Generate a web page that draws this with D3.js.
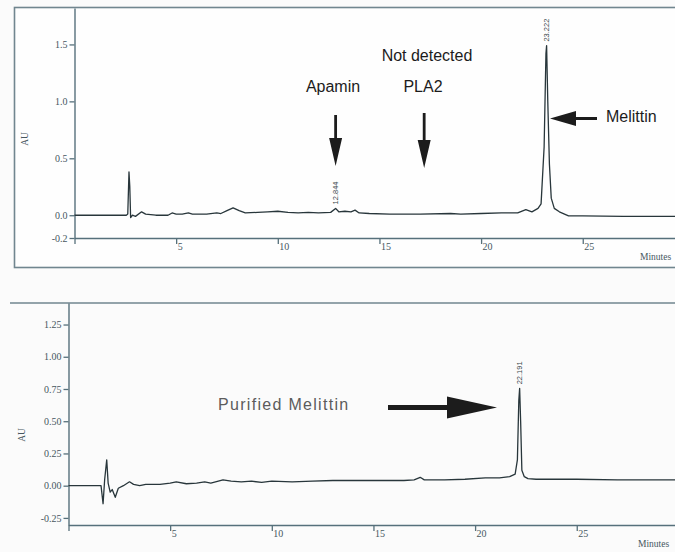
<!DOCTYPE html>
<html>
<head>
<meta charset="utf-8">
<script src="https://cdn.jsdelivr.net/npm/d3@7"></script>
<style>
  html, body { margin: 0; padding: 0; background: #fbfbfb; }
  svg { display: block; }
</style>
</head>
<body>
<svg id="chart" width="675" height="552"></svg>
<script>
// Crude bee venom: retention time (min) and absorbance (AU)
const crudeTime = [0, 2.55, 2.62, 2.68, 2.72, 2.76, 2.85, 3.0, 3.3, 3.5, 4.0, 4.6, 4.8, 5.0, 5.3, 5.6, 5.8,
  6.5, 7.0, 7.2, 7.5, 7.8, 8.1, 8.4, 9.0, 9.5, 10.0, 10.5, 11.0, 11.5, 12.0, 12.6, 12.844, 13.0, 13.3,
  13.6, 13.8, 14.0, 14.5, 15.5, 17.0, 18.5, 19.0, 20.0, 21.0, 21.8, 22.2, 22.5, 22.8, 22.95, 23.1, 23.19,
  23.222, 23.28, 23.36, 23.45, 23.6, 23.85, 24.3, 25.0, 27.0, 29.8];
const crudeAU = [0, 0, 0.01, 0.38, 0.25, -0.02, 0, -0.01, 0.03, 0.01, 0, 0, 0.02, 0.01, 0.01, 0.02, 0.01,
  0.01, 0.02, 0.015, 0.04, 0.065, 0.04, 0.02, 0.025, 0.03, 0.035, 0.025, 0.02, 0.025, 0.02, 0.025, 0.06, 0.03, 0.035,
  0.03, 0.045, 0.02, 0.015, 0.01, 0.01, 0.015, 0.01, 0.015, 0.02, 0.02, 0.05, 0.03, 0.06, 0.1, 0.6, 1.42,
  1.49, 1.0, 0.45, 0.15, 0.06, 0.03, -0.005, -0.005, -0.01, -0.01];

// Purified melittin: retention time (min) and absorbance (AU)
const pureTime = [0, 1.6, 1.7, 1.78, 1.88, 1.95, 2.05, 2.15, 2.3, 2.45, 2.7, 3.0, 3.2, 3.5, 3.8, 4.5, 5.0,
  5.3, 5.8, 6.3, 6.7, 7.0, 7.6, 8.0, 8.5, 9.0, 9.5, 10.0, 11.0, 12.0, 13.0, 14.0, 15.0, 16.5, 17.0, 17.3,
  17.5, 18.5, 19.5, 20.5, 21.2, 21.7, 21.97, 22.08, 22.15, 22.191, 22.24, 22.3, 22.42, 22.6, 23.0, 25.0, 27.0, 29.9];
const pureAU = [0, 0, -0.14, 0.05, 0.2, 0.02, -0.05, -0.03, -0.09, -0.02, 0, 0.03, 0.01, 0, 0.01, 0.01, 0.02,
  0.03, 0.015, 0.02, 0.03, 0.02, 0.045, 0.035, 0.03, 0.035, 0.025, 0.035, 0.03, 0.035, 0.04, 0.04, 0.04, 0.04, 0.045, 0.065,
  0.045, 0.045, 0.05, 0.06, 0.06, 0.07, 0.09, 0.2, 0.66, 0.755, 0.5, 0.12, 0.07, 0.055, 0.05, 0.05, 0.045, 0.045];

// Axis ticks
const timeTicks = [0, 5, 10, 15, 20, 25];
const crudeAUTicks = [-0.2, 0, 0.5, 1.0, 1.5];
const crudeAUTickLabels = ["-0.2", "0.0", "0.5", "1.0", "1.5"];
const pureAUTicks = [-0.25, 0, 0.25, 0.5, 0.75, 1.0, 1.25];
const pureAUTickLabels = ["-0.25", "0.00", "0.25", "0.50", "0.75", "1.00", "1.25"];

// Integrated peaks (retention times printed above the apex)
const crudePeakTimes = [12.844, 23.222];
const purePeakTimes = [22.191];

const svg = d3.select("#chart");
const AXIS = "#56707b";
const TRACE = "#28363b";
const TEXT = "#46575e";

// ---------- panel frames ----------
svg.append("rect")
  .attr("x", 14.5).attr("y", 7.5).attr("width", 700).attr("height", 260)
  .attr("fill", "#fefefe").attr("stroke", "#71868f").attr("stroke-width", 1.6);

svg.append("line")
  .attr("x1", 10).attr("x2", 675).attr("y1", 303).attr("y2", 303)
  .attr("stroke", "#71868f").attr("stroke-width", 1.6);

function drawPanel(opts) {
  const { times, values, xRange, yDomain, yRange, yTicks, yLabels, peaks, minutesPos, auPos } = opts;
  const x = d3.scaleLinear().domain([0, 30]).range(xRange);
  const y = d3.scaleLinear().domain(yDomain).range(yRange);
  const g = svg.append("g");

  // y axis
  const yAxis = d3.axisLeft(y)
    .tickValues(yTicks)
    .tickFormat((d, i) => yLabels[i])
    .tickSize(5).tickPadding(2).tickSizeOuter(0);
  const ya = g.append("g").attr("transform", `translate(${xRange[0]},0)`).call(yAxis);
  ya.select(".domain").attr("stroke", AXIS).attr("stroke-width", 1.4);
  ya.selectAll(".tick line").attr("stroke", AXIS).attr("stroke-width", 1.3);
  ya.selectAll(".tick text")
    .attr("fill", TEXT).attr("font-family", "Liberation Serif, serif").attr("font-size", 10);

  // x axis
  const xAxis = d3.axisBottom(x)
    .tickValues(timeTicks)
    .tickFormat(d => d === 0 ? "" : d)
    .tickSize(6).tickSizeOuter(0);
  const xa = g.append("g").attr("transform", `translate(0,${yRange[0]})`).call(xAxis);
  xa.select(".domain").attr("stroke", AXIS).attr("stroke-width", 1.4);
  xa.selectAll(".tick line").attr("stroke", AXIS).attr("stroke-width", 1.3);
  xa.selectAll(".tick text")
    .attr("fill", TEXT).attr("font-family", "Liberation Serif, serif").attr("font-size", 10)
    .attr("text-anchor", "start").attr("dx", 1).attr("y", 5).attr("dy", "0.71em");

  // axis titles
  g.append("text")
    .attr("transform", `translate(${auPos[0]},${auPos[1]}) rotate(-90)`)
    .attr("text-anchor", "middle")
    .attr("fill", TEXT).attr("font-family", "Liberation Serif, serif").attr("font-size", 9.5)
    .text("AU");
  g.append("text")
    .attr("x", minutesPos[0]).attr("y", minutesPos[1])
    .attr("fill", TEXT).attr("font-family", "Liberation Serif, serif").attr("font-size", 9.5)
    .text("Minutes");

  // trace
  const pts = times.map((t, i) => [t, values[i]]);
  g.append("path")
    .datum(pts)
    .attr("fill", "none").attr("stroke", TRACE).attr("stroke-width", 1.3)
    .attr("stroke-linejoin", "round")
    .attr("d", d3.line().x(d => x(d[0])).y(d => y(d[1])));

  // peak retention-time labels
  peaks.forEach(t => {
    const v = values[times.indexOf(t)];
    g.append("text")
      .attr("transform", `translate(${x(t) + 2.5},${y(v) - 4}) rotate(-90)`)
      .attr("text-anchor", "start")
      .attr("fill", "#3a474c").attr("font-family", "Liberation Sans, Arial, sans-serif")
      .attr("font-size", 7.5)
      .text(t.toFixed(3));
  });

  return { x, y };
}

const crudePanel = drawPanel({
  times: crudeTime, values: crudeAU,
  xRange: [74.5, 74.5 + 30 * 20.33],
  yDomain: [-0.2, 1.82], yRange: [238, 8],
  yTicks: crudeAUTicks, yLabels: crudeAUTickLabels,
  peaks: crudePeakTimes,
  minutesPos: [640, 260], auPos: [28, 139]
});

const purePanel = drawPanel({
  times: pureTime, values: pureAU,
  xRange: [68.5, 68.5 + 30 * 20.33],
  yDomain: [-0.305, 1.417], yRange: [525, 303],
  yTicks: pureAUTicks, yLabels: pureAUTickLabels,
  peaks: purePeakTimes,
  minutesPos: [638, 547], auPos: [25, 435]
});

// ---------- annotations ----------
const ANN = "#1c1c1c";
const sans = "Liberation Sans, Arial, sans-serif";

function downArrow(cx, y0, y1) {
  // shaft from y0, head ending at tip y1
  const headH = 28, headW = 6.5, shaftW = 1.4;
  const hb = y1 - headH;
  svg.append("path")
    .attr("d", `M${cx - shaftW},${y0} L${cx + shaftW},${y0} L${cx + shaftW},${hb} L${cx + headW},${hb}
                L${cx},${y1} L${cx - headW},${hb} L${cx - shaftW},${hb} Z`)
    .attr("fill", ANN);
}
function horizArrow(x0, tipX, cy, headL, headHalf, shaftHalf, dir) {
  // dir = -1 points left, +1 points right
  const hb = tipX - dir * headL;
  svg.append("path")
    .attr("d", `M${x0},${cy - shaftHalf} L${hb},${cy - shaftHalf} L${hb},${cy - headHalf} L${tipX},${cy}
                L${hb},${cy + headHalf} L${hb},${cy + shaftHalf} L${x0},${cy + shaftHalf} Z`)
    .attr("fill", ANN);
}

svg.append("text").attr("x", 333).attr("y", 92).attr("text-anchor", "middle")
  .attr("font-family", sans).attr("font-size", 16).attr("fill", ANN).text("Apamin");
downArrow(crudePanel.x(12.844), 115, 166);

svg.append("text").attr("x", 427).attr("y", 61).attr("text-anchor", "middle")
  .attr("font-family", sans).attr("font-size", 16).attr("fill", ANN).text("Not detected");
svg.append("text").attr("x", 423).attr("y", 92).attr("text-anchor", "middle")
  .attr("font-family", sans).attr("font-size", 16).attr("fill", ANN).text("PLA2");
downArrow(crudePanel.x(17.2), 113, 168);

horizArrow(597, 550, 118.5, 26, 7.5, 1.5, -1);
svg.append("text").attr("x", 606).attr("y", 122)
  .attr("font-family", sans).attr("font-size", 16).attr("fill", ANN).text("Melittin");

svg.append("text").attr("x", 218).attr("y", 410)
  .attr("font-family", sans).attr("font-size", 16).attr("letter-spacing", 1.3)
  .attr("fill", "#5c5c5c").text("Purified Melittin");
horizArrow(388, 497, 407.5, 50, 11, 2.5, 1);
</script>
</body>
</html>
